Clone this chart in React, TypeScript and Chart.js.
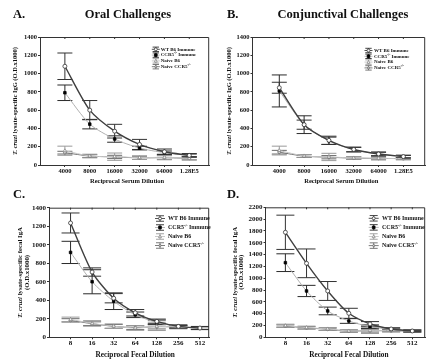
import React, { useEffect, useRef } from "react";
import { Chart, registerables } from "chart.js";
Chart.register(...registerables);

// ---------- data ----------
const serumDilutions = ["4000", "8000", "16000", "32000", "64000", "1.28E5"];
const fecalDilutions = ["8", "16", "32", "64", "128", "256", "512"];
const seriesLabels = ["WT B6 Immune", "CCR5-/- Immune", "Naive B6", "Naive CCR5-/-"];

// A. Oral challenges, serum IgG
const oralWT = [1080, 600, 370, 225, 145, 105];
const oralWTErr = [145, 105, 75, 55, 30, 20];
const oralCCR5 = [790, 447, 284, 185, 135, 105];
const oralCCR5Err = [85, 52, 35, 20, 18, 15];
const oralNaiveB6 = [156, 98, 91, 80, 84, 73];
const oralNaiveB6Err = [50, 20, 40, 20, 22, 15];
const oralNaiveCCR5 = [135, 98, 88, 78, 80, 73];
const oralNaiveCCR5Err = [15, 15, 18, 18, 22, 18];

// B. Conjunctival challenges, serum IgG
const conjWT = [845, 441, 270, 170, 121, 92];
const conjWTErr = [60, 50, 45, 25, 20, 15];
const conjCCR5 = [810, 441, 265, 168, 120, 90];
const conjCCR5Err = [175, 97, 40, 25, 20, 15];
const conjNaiveB6 = [158, 99, 88, 77, 73, 70];
const conjNaiveB6Err = [48, 15, 40, 15, 15, 12];
const conjNaiveCCR5 = [140, 97, 85, 75, 72, 70];
const conjNaiveCCR5Err = [20, 15, 18, 15, 15, 12];

// C. Oral challenges, fecal IgA
const fecalOralWT = [1235, 705, 422, 265, 172, 118, 100];
const fecalOralWTErr = [108, 45, 50, 35, 25, 15, 15];
const fecalOralCCR5 = [917, 600, 390, 243, 161, 115, 100];
const fecalOralCCR5Err = [120, 130, 90, 30, 25, 15, 15];
const fecalOralNaiveB6 = [193, 150, 120, 100, 118, 111, 100];
const fecalOralNaiveB6Err = [25, 30, 25, 25, 45, 20, 18];
const fecalOralNaiveCCR5 = [183, 147, 118, 105, 115, 111, 100];
const fecalOralNaiveCCR5Err = [18, 20, 20, 20, 25, 15, 15];

// D. Conjunctival challenges, fecal IgA
const fecalConjWT = [1777, 1252, 784, 406, 226, 141, 107];
const fecalConjWTErr = [290, 243, 160, 85, 40, 20, 15];
const fecalConjCCR5 = [1263, 784, 446, 276, 180, 135, 107];
const fecalConjCCR5Err = [150, 95, 65, 40, 30, 20, 15];
const fecalConjNaiveB6 = [197, 164, 141, 107, 113, 113, 107];
const fecalConjNaiveB6Err = [25, 25, 25, 20, 48, 20, 15];
const fecalConjNaiveCCR5 = [190, 160, 135, 105, 113, 110, 105];
const fecalConjNaiveCCR5Err = [20, 20, 20, 20, 25, 18, 15];

// ---------- styles ----------
const FAMILY = '"Liberation Serif", "Times New Roman", Times, serif';
const fnt = (size: number, italic = false) => `${italic ? "italic " : ""}bold ${size}px ${FAMILY}`;

type St = { line: string; err: string; lw: number; point: string; fill: string; pb: string; r: number };
const STYLES: St[] = [
  { line: "#3f3f3f", err: "#333333", lw: 1.4, point: "circle", fill: "#ffffff", pb: "#333333", r: 2 },
  { line: "#b0b0b0", err: "#2a2a2a", lw: 1, point: "rect", fill: "#000000", pb: "#000000", r: 1.8 },
  { line: "#c4c4c4", err: "#9a9a9a", lw: 1, point: "triangle", fill: "#ffffff", pb: "#8a8a8a", r: 2 },
  { line: "#6f6f6f", err: "#6a6a6a", lw: 1, point: "circle", fill: "#d8d8d8", pb: "#6a6a6a", r: 1.4 },
];

type Seg = { t: string; it?: boolean; sup?: boolean };
const labelSegs = (label: string): Seg[] => {
  const parts = label.split("-/-");
  const out: Seg[] = [];
  parts.forEach((p, i) => {
    if (p) out.push({ t: p });
    if (i < parts.length - 1) out.push({ t: "-/-", sup: true });
  });
  return out;
};

function drawSegs(ctx: CanvasRenderingContext2D, segs: Seg[], x: number, y: number, size: number, align: "left" | "center") {
  let total = 0;
  const widths = segs.map((s) => {
    ctx.font = fnt(s.sup ? size * 0.62 : size, !!s.it);
    const w = ctx.measureText(s.t).width;
    total += w;
    return w;
  });
  let cx = align === "center" ? x - total / 2 : x;
  ctx.textAlign = "left";
  ctx.textBaseline = "middle";
  segs.forEach((s, i) => {
    ctx.font = fnt(s.sup ? size * 0.62 : size, !!s.it);
    ctx.fillText(s.t, cx, s.sup ? y - size * 0.3 : y);
    cx += widths[i];
  });
}

function drawMarker(ctx: CanvasRenderingContext2D, st: St, x: number, y: number, r: number) {
  ctx.save();
  ctx.fillStyle = st.fill;
  ctx.strokeStyle = st.pb;
  ctx.lineWidth = 0.8;
  ctx.beginPath();
  if (st.point === "rect") {
    ctx.rect(x - r, y - r, 2 * r, 2 * r);
  } else if (st.point === "triangle") {
    ctx.moveTo(x, y - r * 1.1);
    ctx.lineTo(x + r, y + r * 0.8);
    ctx.lineTo(x - r, y + r * 0.8);
    ctx.closePath();
  } else {
    ctx.arc(x, y, r, 0, Math.PI * 2);
  }
  ctx.fill();
  ctx.stroke();
  ctx.restore();
}

type Spec = {
  left: number; top: number; w: number; h: number;
  yW: number; padTop: number; padRight: number; xH: number;
  xMin: number; xMax: number; yMax: number;
  labels: string[]; series: number[][]; errs: number[][];
  tickFont: number; capW: number;
  letter: string; title: string; letterY: number; titleX: number;
  xTitle: string; xTitleY: number; xTitleFont: number;
  yTitle: Seg[][]; yTitleX: number[]; yTitleFont: number;
  legX: number; legTextX: number; legY: number; legStep: number; legFont: number; legSym: number;
};

const yTitleIgG: Seg[][] = [[{ t: "T. cruzi", it: true }, { t: " lysate-specific IgG (O.D.x1000)" }]];
const yTitleIgA: Seg[][] = [[{ t: "T. cruzi", it: true }, { t: " lysate-specific fecal IgA" }], [{ t: "(O.D.x1000)" }]];

const PANELS: Spec[] = [
  {
    left: 0, top: 0, w: 214, h: 185, yW: 40, padTop: 37, padRight: 1.5, xH: 20,
    xMin: -1, xMax: 5.8, yMax: 1400, labels: serumDilutions,
    series: [oralWT, oralCCR5, oralNaiveB6, oralNaiveCCR5],
    errs: [oralWTErr, oralCCR5Err, oralNaiveB6Err, oralNaiveCCR5Err],
    tickFont: 6.5, capW: 15, letter: "A.", title: "Oral Challenges", letterY: 15, titleX: 128,
    xTitle: "Reciprocal Serum Dilution", xTitleY: 181, xTitleFont: 6.5,
    yTitle: yTitleIgG, yTitleX: [15], yTitleFont: 6.5,
    legX: 155.8, legTextX: 160.7, legY: 49.3, legStep: 5.8, legFont: 5, legSym: 4,
  },
  {
    left: 214, top: 0, w: 216, h: 185, yW: 38.5, padTop: 37, padRight: 0, xH: 20,
    xMin: -1.08, xMax: 5.88, yMax: 1400, labels: serumDilutions,
    series: [conjWT, conjCCR5, conjNaiveB6, conjNaiveCCR5],
    errs: [conjWTErr, conjCCR5Err, conjNaiveB6Err, conjNaiveCCR5Err],
    tickFont: 6.5, capW: 15, letter: "B.", title: "Conjunctival Challenges", letterY: 15, titleX: 129,
    xTitle: "Reciprocal Serum Dilution", xTitleY: 181, xTitleFont: 6.5,
    yTitle: yTitleIgG, yTitleX: [15], yTitleFont: 6.5,
    legX: 154.5, legTextX: 160, legY: 50.5, legStep: 5.8, legFont: 5, legSym: 4,
  },
  {
    left: 0, top: 185, w: 214, h: 177, yW: 49, padTop: 22.7, padRight: 1.5, xH: 24.7,
    xMin: -1, xMax: 6.43, yMax: 1400, labels: fecalDilutions,
    series: [fecalOralWT, fecalOralCCR5, fecalOralNaiveB6, fecalOralNaiveCCR5],
    errs: [fecalOralWTErr, fecalOralCCR5Err, fecalOralNaiveB6Err, fecalOralNaiveCCR5Err],
    tickFont: 7, capW: 18, letter: "C.", title: "", letterY: 10, titleX: 128,
    xTitle: "Reciprocal Fecal Dilution", xTitleY: 170, xTitleFont: 7.3,
    yTitle: yTitleIgA, yTitleX: [20.7, 27], yTitleFont: 6.8,
    legX: 160, legTextX: 168, legY: 33.5, legStep: 9, legFont: 6, legSym: 5,
  },
  {
    left: 214, top: 185, w: 216, h: 177, yW: 51.5, padTop: 22.3, padRight: 0, xH: 24.7,
    xMin: -0.94, xMax: 6.61, yMax: 2200, labels: fecalDilutions,
    series: [fecalConjWT, fecalConjCCR5, fecalConjNaiveB6, fecalConjNaiveCCR5],
    errs: [fecalConjWTErr, fecalConjCCR5Err, fecalConjNaiveB6Err, fecalConjNaiveCCR5Err],
    tickFont: 7, capW: 18, letter: "D.", title: "", letterY: 10, titleX: 128,
    xTitle: "Reciprocal Fecal Dilution", xTitleY: 170, xTitleFont: 7.3,
    yTitle: yTitleIgA, yTitleX: [21, 27.3], yTitleFont: 6.8,
    legX: 159.7, legTextX: 168, legY: 33.3, legStep: 9.1, legFont: 6, legSym: 5,
  },
];

function Panel({ s }: { s: Spec }) {
  const ref = useRef<HTMLCanvasElement | null>(null);
  useEffect(() => {
    if (!ref.current) return;
    const decor = {
      id: "decor" + s.letter,
      beforeDatasetsDraw(chart: any) {
        const { ctx } = chart;
        const xs = chart.scales.x;
        const ys = chart.scales.y;
        ctx.save();
        for (let d = s.series.length - 1; d >= 0; d--) {
          const st = STYLES[d];
          ctx.strokeStyle = st.err;
          ctx.lineWidth = 1;
          s.series[d].forEach((v, i) => {
            const e = s.errs[d][i];
            const x = xs.getPixelForValue(i);
            const y1 = ys.getPixelForValue(v + e);
            const y2 = ys.getPixelForValue(v - e);
            ctx.beginPath();
            ctx.moveTo(x, y1);
            ctx.lineTo(x, y2);
            ctx.moveTo(x - s.capW / 2, y1);
            ctx.lineTo(x + s.capW / 2, y1);
            ctx.moveTo(x - s.capW / 2, y2);
            ctx.lineTo(x + s.capW / 2, y2);
            ctx.stroke();
          });
        }
        ctx.restore();
      },
      afterDraw(chart: any) {
        const { ctx, chartArea } = chart;
        const xs = chart.scales.x;
        ctx.save();
        ctx.fillStyle = "#111";
        ctx.strokeStyle = "#333";
        ctx.lineWidth = 1;
        ctx.beginPath();
        ctx.moveTo(chartArea.left, chartArea.top + 0.5);
        ctx.lineTo(chartArea.right - 0.5, chartArea.top + 0.5);
        ctx.lineTo(chartArea.right - 0.5, chartArea.bottom);
        ctx.stroke();
        ctx.beginPath();
        s.labels.forEach((_, i) => {
          const x = xs.getPixelForValue(i);
          ctx.moveTo(x, chartArea.top);
          ctx.lineTo(x, chartArea.top + 2);
        });
        ctx.stroke();
        drawSegs(ctx, [{ t: s.letter }], 13, s.letterY, 12.5, "left");
        if (s.title) drawSegs(ctx, [{ t: s.title }], s.titleX, s.letterY, 12.5, "center");
        const xc = (xs.getPixelForValue(0) + xs.getPixelForValue(s.labels.length - 1)) / 2;
        drawSegs(ctx, [{ t: s.xTitle }], xc, s.xTitleY, s.xTitleFont, "center");
        const yc = (chartArea.top + chartArea.bottom) / 2;
        s.yTitle.forEach((line, li) => {
          ctx.save();
          ctx.translate(s.yTitleX[li], yc);
          ctx.rotate(-Math.PI / 2);
          drawSegs(ctx, line, 0, 0, s.yTitleFont, "center");
          ctx.restore();
        });
        seriesLabels.forEach((lab, i) => {
          const st = STYLES[i];
          const cy = s.legY + i * s.legStep;
          const cx = s.legX;
          const hw = s.legSym;
          const hh = s.legSym * 0.55;
          ctx.strokeStyle = st.line;
          ctx.lineWidth = 0.9;
          ctx.beginPath();
          ctx.moveTo(cx - hw, cy);
          ctx.lineTo(cx + hw, cy);
          ctx.stroke();
          ctx.strokeStyle = st.err;
          ctx.beginPath();
          ctx.moveTo(cx, cy - hh);
          ctx.lineTo(cx, cy + hh);
          ctx.moveTo(cx - hw * 0.8, cy - hh);
          ctx.lineTo(cx + hw * 0.8, cy - hh);
          ctx.moveTo(cx - hw * 0.8, cy + hh);
          ctx.lineTo(cx + hw * 0.8, cy + hh);
          ctx.stroke();
          drawMarker(ctx, st, cx, cy, st.r * 0.75);
          ctx.fillStyle = "#111";
          drawSegs(ctx, labelSegs(lab), s.legTextX, cy, s.legFont, "left");
        });
        ctx.restore();
      },
    };

    const tickFont = { family: FAMILY, size: s.tickFont, weight: "bold" as const };
    const chart = new Chart(ref.current, {
      type: "line",
      data: {
        datasets: s.series.map((vals, d) => {
          const st = STYLES[d];
          return {
            label: seriesLabels[d],
            data: vals.map((v, i) => ({ x: i, y: v })),
            borderColor: st.line,
            borderWidth: st.lw,
            backgroundColor: st.fill,
            pointStyle: st.point as any,
            pointRadius: st.r,
            pointBackgroundColor: st.fill,
            pointBorderColor: st.pb,
            pointBorderWidth: 0.8,
            tension: 0.25,
            fill: false,
          };
        }),
      },
      options: {
        responsive: false,
        animation: false,
        devicePixelRatio: 1,
        layout: { padding: { top: s.padTop, right: s.padRight, left: 0, bottom: 0 } },
        plugins: { legend: { display: false }, tooltip: { enabled: false }, title: { display: false } },
        scales: {
          x: {
            type: "linear",
            min: s.xMin,
            max: s.xMax,
            afterFit: (sc: any) => { sc.height = s.xH; },
            afterBuildTicks: (sc: any) => { sc.ticks = s.labels.map((_, i) => ({ value: i })); },
            ticks: {
              autoSkip: false,
              maxRotation: 0,
              padding: 0,
              color: "#111",
              font: tickFont,
              callback: (v: any) => s.labels[v] ?? "",
            },
            grid: { display: true, drawOnChartArea: false, drawTicks: true, tickLength: 2, color: "#333" },
            border: { display: true, color: "#333", width: 1 },
          },
          y: {
            type: "linear",
            min: 0,
            max: s.yMax,
            afterFit: (sc: any) => { sc.width = s.yW; },
            ticks: { stepSize: 200, padding: 1, color: "#111", font: tickFont, callback: (v: any) => String(v) },
            grid: { display: true, drawOnChartArea: false, drawTicks: true, tickLength: 2, color: "#333" },
            border: { display: true, color: "#333", width: 1 },
          },
        },
      },
      plugins: [decor],
    } as any);
    return () => chart.destroy();
  }, [s]);
  return (
    <canvas
      ref={ref}
      width={s.w}
      height={s.h}
      style={{ position: "absolute", left: s.left, top: s.top, width: s.w, height: s.h, display: "block" }}
    />
  );
}

export default function App() {
  return (
    <div
      style={{
        position: "absolute",
        left: 0,
        top: 0,
        width: 427,
        height: 362,
        overflow: "hidden",
        background: "#ffffff",
      }}
    >
      {PANELS.map((p) => (
        <Panel key={p.letter} s={p} />
      ))}
    </div>
  );
}
